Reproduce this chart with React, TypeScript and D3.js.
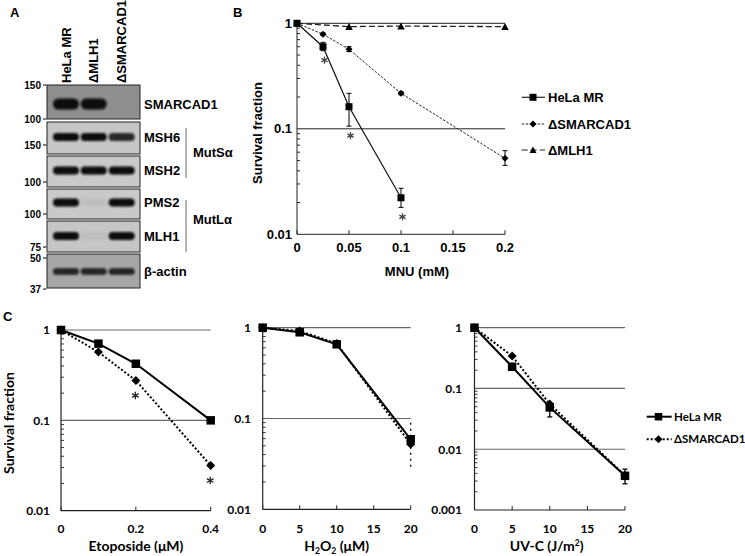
import React from "react";
import * as d3 from "d3";

// ---------- Panel A data (western blot) ----------
const laneLabels = ["HeLa MR", "ΔMLH1", "ΔSMARCAD1"];
const blotRows = ["SMARCAD1", "MSH6", "MSH2", "PMS2", "MLH1", "β-actin"];
const blotLevels = [
  [1, 1, 0],
  [1, 1, 0.85],
  [1, 1, 1],
  [1, 0.05, 1],
  [1, 0.04, 1],
  [0.85, 0.85, 0.85],
];
const blotMarkers = ["150", "100", "150", "100", "100", "75", "50", "37"];
const complexLabels = ["MutSα", "MutLα"];

// ---------- Panel B data (MNU) ----------
const mnuTicks = [0, 0.05, 0.1, 0.15, 0.2];
const helaMnuDose = [0, 0.025, 0.05, 0.1];
const helaMnu = [1, 0.6, 0.162, 0.0222];
const helaMnuErrHi = [1, 0.66, 0.217, 0.0273];
const helaMnuErrLo = [1, 0.55, 0.106, 0.018];
const helaMnuSig = [false, true, true, true];
const smarMnuDose = [0, 0.025, 0.05, 0.1, 0.2];
const smarMnu = [1, 0.787, 0.567, 0.217, 0.0525];
const smarMnuErrHi = [1, 0.81, 0.6, 0.225, 0.062];
const smarMnuErrLo = [1, 0.77, 0.54, 0.21, 0.045];
const mlhMnuDose = [0, 0.05, 0.1, 0.2];
const mlhMnu = [1, 0.93, 0.94, 0.93];
const seriesB = ["HeLa MR", "ΔSMARCAD1", "ΔMLH1"];

// ---------- Panel C data ----------
const etoDose = [0, 0.1, 0.2, 0.4];
const etoTicks = [0, 0.2, 0.4];
const helaEto = [1, 0.706, 0.423, 0.1];
const smarEto = [1, 0.57, 0.276, 0.0316];
const smarEtoSig = [false, false, true, true];

const h2o2Dose = [0, 5, 10, 20];
const h2o2Ticks = [0, 5, 10, 15, 20];
const helaH2o2 = [1, 0.89, 0.656, 0.059];
const smarH2o2 = [1, 0.92, 0.67, 0.052];
const smarH2o2ErrHi = [1, 0.92, 0.67, 0.09];
const smarH2o2ErrLo = [1, 0.92, 0.67, 0.027];

const uvDose = [0, 5, 10, 20];
const uvTicks = [0, 5, 10, 15, 20];
const helaUv = [1, 0.228, 0.0488, 0.00365];
const helaUvErrHi = [1, 0.24, 0.058, 0.0047];
const helaUvErrLo = [1, 0.215, 0.034, 0.0027];
const smarUv = [1, 0.342, 0.0553, 0.0037];
const seriesC = ["HeLa MR", "ΔSMARCAD1"];

const ARIAL = "'Liberation Sans', Arial, sans-serif";
const CAL = "Lato, 'Open Sans', sans-serif";

function Marker({ type, x, y, s }: { type: string; x: number; y: number; s: number }) {
  if (type === "square") return <rect x={x - s / 2} y={y - s / 2} width={s} height={s} fill="#000" />;
  if (type === "diamond")
    return <path d={`M${x},${y - s / 2}L${x + s / 2},${y}L${x},${y + s / 2}L${x - s / 2},${y}Z`} fill="#000" />;
  return <path d={`M${x},${y - s / 2}L${x + s / 2},${y + s / 2 - 0.5}L${x - s / 2},${y + s / 2 - 0.5}Z`} fill="#000" />;
}

function Asterisk({ x, y, r, color }: { x: number; y: number; r: number; color: string }) {
  return (
    <g stroke={color} strokeWidth={1.3}>
      {[0, 60, 120].map((a) => {
        const rad = (a * Math.PI) / 180;
        return (
          <line key={a} x1={x - r * Math.sin(rad)} y1={y - r * Math.cos(rad)} x2={x + r * Math.sin(rad)} y2={y + r * Math.cos(rad)} />
        );
      })}
    </g>
  );
}

function minorVals(lo: number, hi: number) {
  const out: number[] = [];
  for (let e = Math.round(Math.log10(lo)); e < Math.round(Math.log10(hi)); e++) {
    for (let m = 2; m <= 9; m++) out.push(m * Math.pow(10, e));
  }
  return out;
}

function fmtLog(v: number) {
  return v >= 1 ? "1" : String(+v.toPrecision(1));
}

function PanelA() {
  const panelX0 = 47, panelX1 = 140;
  const rowsY = [
    [85, 119], [122, 154], [156, 187], [189, 219], [221, 252], [254, 288],
  ];
  const bandC = [104, 137, 170.5, 202.5, 236, 271.5];
  const bandH = [11, 8, 8, 8, 8, 6.5];
  const bg = ["#8e8e8e", "#c6c6c6", "#c9c9c9", "#c9c9c9", "#c6c6c6", "#a6a6a6"];
  const laneX = [66, 93.7, 121.7];
  const markerY = [85, 119, 145, 182, 214, 247, 258, 289];
  return (
    <g>
      <defs>
        <filter id="blur" x="-20%" y="-50%" width="140%" height="200%">
          <feGaussianBlur stdDeviation="1.2" />
        </filter>
      </defs>
      <text x={10} y={17} fontFamily={ARIAL} fontWeight="bold" fontSize={13}>A</text>
      {laneLabels.map((l, i) => (
        <text key={l} transform={`translate(${laneX[i] + 4.5},83) rotate(-90)`} fontFamily={ARIAL} fontWeight="bold" fontSize={13}>
          {l}
        </text>
      ))}
      {blotRows.map((r, i) => (
        <g key={r}>
          <rect x={panelX0} y={rowsY[i][0]} width={panelX1 - panelX0} height={rowsY[i][1] - rowsY[i][0]} fill={bg[i]} stroke="#222" strokeWidth={1} />
          {blotLevels[i].map((lv, j) =>
            lv > 0 ? (
              <rect key={j} x={laneX[j] - 13} y={bandC[i] - bandH[i] / 2} width={26} height={bandH[i]} rx={bandH[i] / 2} fill="#080808" opacity={lv} filter="url(#blur)" />
            ) : null
          )}
          <text x={144} y={bandC[i]} dy="0.36em" fontFamily={ARIAL} fontWeight="bold" fontSize={13}>{r}</text>
        </g>
      ))}
      {blotMarkers.map((m, i) => (
        <g key={i}>
          <text x={41} y={markerY[i]} dy="0.36em" textAnchor="end" fontFamily={ARIAL} fontWeight="bold" fontSize={10}>{m}</text>
          <line x1={43} x2={46.5} y1={markerY[i]} y2={markerY[i]} stroke="#000" strokeWidth={1} />
        </g>
      ))}
      <line x1={186} x2={186} y1={128} y2={178} stroke="#666" strokeWidth={1} />
      <line x1={186} x2={186} y1={200} y2={252} stroke="#666" strokeWidth={1} />
      <text x={193} y={152} dy="0.36em" fontFamily={ARIAL} fontWeight="bold" fontSize={13}>{complexLabels[0]}</text>
      <text x={193} y={219} dy="0.36em" fontFamily={ARIAL} fontWeight="bold" fontSize={13}>{complexLabels[1]}</text>
    </g>
  );
}

function PanelB() {
  const x = d3.scaleLinear().domain([0, 0.2]).range([297, 505]);
  const y = d3.scaleLog().domain([0.01, 1]).range([234.3, 23.3]);
  const line = (xs: number[], ys: number[]) =>
    d3.line<number>().x((_, i) => x(xs[i])).y((v) => y(v))(ys) || "";
  const minors = minorVals(0.01, 1);
  const errB = (xs: number[], hi: number[], lo: number[]) =>
    xs.map((d, i) =>
      hi[i] !== lo[i] ? (
        <g key={i} stroke="#000" strokeWidth={1}>
          <line x1={x(d)} x2={x(d)} y1={y(hi[i])} y2={y(lo[i])} />
          <line x1={x(d) - 2.5} x2={x(d) + 2.5} y1={y(hi[i])} y2={y(hi[i])} />
          <line x1={x(d) - 2.5} x2={x(d) + 2.5} y1={y(lo[i])} y2={y(lo[i])} />
        </g>
      ) : null
    );
  return (
    <g fontFamily={ARIAL} fontWeight="bold">
      <text x={233} y={17} fontSize={13}>B</text>
      {[1, 0.1].map((g) => (
        <line key={g} x1={x(0)} x2={x(0.2)} y1={y(g)} y2={y(g)} stroke="#222" strokeWidth={1} />
      ))}
      <line x1={x(0)} x2={x(0)} y1={y(1)} y2={y(0.01)} stroke="#222" strokeWidth={1} />
      <line x1={x(0)} x2={x(0.2)} y1={y(0.01)} y2={y(0.01)} stroke="#222" strokeWidth={1} />
      {minors.map((m) => (
        <line key={m} x1={x(0)} x2={x(0) + 3} y1={y(m)} y2={y(m)} stroke="#222" strokeWidth={1} />
      ))}
      {mnuTicks.map((t) => (
        <g key={t}>
          <line x1={x(t)} x2={x(t)} y1={y(0.01)} y2={y(0.01) - 4} stroke="#222" />
          <text x={x(t)} y={247} dy="0.36em" textAnchor="middle" fontSize={13}>{String(t)}</text>
        </g>
      ))}
      {[1, 0.1, 0.01].map((t) => (
        <text key={t} x={292} y={y(t)} dy="0.36em" textAnchor="end" fontSize={13}>{fmtLog(t)}</text>
      ))}
      <text x={417} y={271} dy="0.36em" textAnchor="middle" fontSize={13}>MNU (mM)</text>
      <text transform={`translate(${257},${133}) rotate(-90)`} dy="0.36em" textAnchor="middle" fontSize={13}>Survival fraction</text>
      {/* lines */}
      <path d={line(mlhMnuDose, mlhMnu)} fill="none" stroke="#222" strokeWidth={1.3} strokeDasharray="6,3" />
      <path d={line(smarMnuDose, smarMnu)} fill="none" stroke="#222" strokeWidth={1} strokeDasharray="2.5,1.5" />
      <path d={line(helaMnuDose, helaMnu)} fill="none" stroke="#111" strokeWidth={1.2} />
      {errB(helaMnuDose, helaMnuErrHi, helaMnuErrLo)}
      {errB(smarMnuDose, smarMnuErrHi, smarMnuErrLo)}
      {mlhMnuDose.map((d, i) => <Marker key={i} type="triangle" x={x(d)} y={y(mlhMnu[i])} s={7.5} />)}
      {smarMnuDose.map((d, i) => <Marker key={i} type="diamond" x={x(d)} y={y(smarMnu[i])} s={7} />)}
      {helaMnuDose.map((d, i) => <Marker key={i} type="square" x={x(d)} y={y(helaMnu[i])} s={7} />)}
      {helaMnuDose.map((d, i) =>
        helaMnuSig[i] ? <Asterisk key={i} x={x(d) + 1.5} y={y(helaMnuErrLo[i]) + 9.5} r={3.6} color="#444" /> : null
      )}
      {/* legend */}
      {seriesB.map((s, i) => {
        const ly = [97.3, 124, 150][i];
        const dash = ["", "2.5,1.5", "6,3"][i];
        const type = ["square", "diamond", "triangle"][i];
        return (
          <g key={s}>
            <line x1={521.7} x2={545} y1={ly} y2={ly} stroke="#222" strokeWidth={1.2} strokeDasharray={dash} />
            <Marker type={type} x={533} y={ly} s={7} />
            <text x={548} y={ly} dy="0.36em" fontSize={13}>{s}</text>
          </g>
        );
      })}
    </g>
  );
}

function LogPanel(props: {
  x0: number; x1: number; xMax: number; yTop: number; yBot: number; yMin: number;
  xTicks: number[]; xLabel: React.ReactNode; xLabelX: number; labelRight: number;
  hela: number[]; smar: number[]; dose: number[];
  helaErr?: [number[], number[]]; smarErr?: [number[], number[]];
  sig?: boolean[]; yTitle?: boolean;
}) {
  const x = d3.scaleLinear().domain([0, props.xMax]).range([props.x0, props.x1]);
  const y = d3.scaleLog().domain([props.yMin, 1]).range([props.yBot, props.yTop]);
  const majors: number[] = [];
  for (let v = 1; v >= props.yMin * 0.999; v /= 10) majors.push(+v.toPrecision(1));
  const grids = majors.slice(0, -1);
  const minors = minorVals(props.yMin, 1);
  const line = (ys: number[]) => d3.line<number>().x((_, i) => x(props.dose[i])).y((v) => y(v))(ys) || "";
  const err = (e: [number[], number[]] | undefined, dashed: boolean) =>
    e
      ? props.dose.map((d, i) =>
          e[0][i] !== e[1][i] ? (
            <g key={i} stroke="#000" strokeWidth={1.3} strokeDasharray={dashed ? "2,4" : ""}>
              <line x1={x(d)} x2={x(d)} y1={y(e[0][i])} y2={y(e[1][i])} />
              {!dashed && <line x1={x(d) - 2.5} x2={x(d) + 2.5} y1={y(e[0][i])} y2={y(e[0][i])} />}
              {!dashed && <line x1={x(d) - 2.5} x2={x(d) + 2.5} y1={y(e[1][i])} y2={y(e[1][i])} />}
            </g>
          ) : null
        )
      : null;
  return (
    <g fontFamily={CAL} fontWeight="bold">
      {grids.map((g) => (
        <line key={g} x1={x(0)} x2={x(props.xMax)} y1={y(g)} y2={y(g)} stroke="#666" strokeWidth={1.2} />
      ))}
      <line x1={x(0)} x2={x(0)} y1={y(1)} y2={y(props.yMin)} stroke="#222" strokeWidth={1.2} />
      <line x1={x(0)} x2={x(props.xMax)} y1={y(props.yMin)} y2={y(props.yMin)} stroke="#222" strokeWidth={1.2} />
      {minors.map((m) => (
        <line key={m} x1={x(0)} x2={x(0) + 3} y1={y(m)} y2={y(m)} stroke="#222" strokeWidth={0.9} />
      ))}
      {props.xTicks.map((t) => (
        <g key={t}>
          <line x1={x(t)} x2={x(t)} y1={y(props.yMin)} y2={y(props.yMin) - 4} stroke="#222" />
          <text x={x(t)} y={529} dy="0.36em" textAnchor="middle" fontSize={12}>{String(t)}</text>
        </g>
      ))}
      {majors.map((t) => (
        <text key={t} x={props.labelRight} y={y(t)} dy="0.36em" textAnchor="end" fontSize={12}>{fmtLog(t)}</text>
      ))}
      <text x={props.xLabelX} y={546} dy="0.36em" textAnchor="middle" fontSize={14}>{props.xLabel}</text>
      {props.yTitle && (
        <text transform={`translate(${8.5},${423}) rotate(-90)`} dy="0.36em" textAnchor="middle" fontSize={14}>Survival fraction</text>
      )}
      <path d={line(props.smar)} fill="none" stroke="#000" strokeWidth={2} strokeDasharray="2,2" />
      <path d={line(props.hela)} fill="none" stroke="#000" strokeWidth={2} />
      {err(props.helaErr, false)}
      {err(props.smarErr, true)}
      {props.dose.map((d, i) => <Marker key={"s" + i} type="square" x={x(d)} y={y(props.hela[i])} s={8.5} />)}
      {props.dose.map((d, i) => <Marker key={"d" + i} type="diamond" x={x(d)} y={y(props.smar[i])} s={9} />)}
      {props.sig &&
        props.dose.map((d, i) =>
          props.sig![i] ? <Asterisk key={"a" + i} x={x(d) - 0.5} y={y(props.smar[i]) + 15} r={3.8} color="#222" /> : null
        )}
    </g>
  );
}

function PanelC() {
  return (
    <g>
      <text x={3} y={321} fontFamily={ARIAL} fontWeight="bold" fontSize={13}>C</text>
      <LogPanel x0={61} x1={210.7} xMax={0.4} yTop={330} yBot={510.7} yMin={0.01} xTicks={etoTicks}
        xLabel="Etoposide (μM)" xLabelX={136} labelRight={50} hela={helaEto} smar={smarEto} dose={etoDose}
        sig={smarEtoSig} yTitle />
      <LogPanel x0={262.7} x1={410.7} xMax={20} yTop={327.7} yBot={509.3} yMin={0.01} xTicks={h2o2Ticks}
        xLabel={<tspan>H<tspan fontSize={8.5} dy={3}>2</tspan><tspan dy={-3}>O</tspan><tspan fontSize={8.5} dy={3}>2</tspan><tspan dy={-3}> (μM)</tspan></tspan>}
        xLabelX={336.7} labelRight={251} hela={helaH2o2} smar={smarH2o2} dose={h2o2Dose}
        smarErr={[smarH2o2ErrHi, smarH2o2ErrLo]} />
      <LogPanel x0={474.5} x1={625} xMax={20} yTop={327.7} yBot={510} yMin={0.001} xTicks={uvTicks}
        xLabel={<tspan>UV-C (J/m<tspan fontSize={8.5} dy={-5}>2</tspan><tspan dy={5}>)</tspan></tspan>}
        xLabelX={546.7} labelRight={462} hela={helaUv} smar={smarUv} dose={uvDose}
        helaErr={[helaUvErrHi, helaUvErrLo]} />
      {seriesC.map((s, i) => {
        const ly = [416.7, 439.3][i];
        return (
          <g key={s} fontFamily={CAL} fontWeight="bold">
            <line x1={646.7} x2={671.7} y1={ly} y2={ly} stroke="#000" strokeWidth={2} strokeDasharray={i ? "2,2" : ""} />
            <Marker type={i ? "diamond" : "square"} x={658.5} y={ly} s={i ? 8 : 7.5} />
            <text x={674} y={ly} dy="0.36em" fontSize={11.5}>{s}</text>
          </g>
        );
      })}
    </g>
  );
}

export default function App() {
  return (
    <svg width={745} height={556} style={{ position: "absolute", left: 0, top: 0, background: "#fff" }}>
      <rect width={745} height={556} fill="#fff" />
      <PanelA />
      <PanelB />
      <PanelC />
    </svg>
  );
}
